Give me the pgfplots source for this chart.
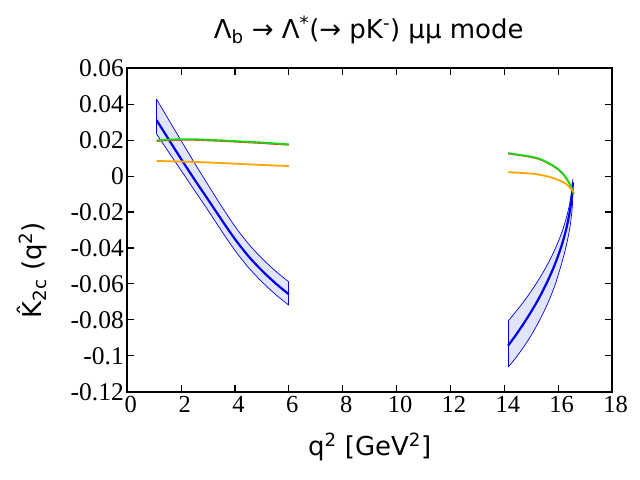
\documentclass[border=0pt]{standalone}
\usepackage{fontspec}
\setmainfont{Liberation Serif}
\newfontfamily\dejavu{DejaVu Sans}
\usepackage{pgfplots}
\usepackage{pgfplotstable}
\pgfplotsset{compat=1.18}
\definecolor{bandfill}{RGB}{226,229,250}
\definecolor{myblue}{RGB}{0,0,235}
\definecolor{mygreen}{RGB}{20,220,20}
\definecolor{myorange}{RGB}{255,165,0}
\definecolor{myred}{RGB}{240,60,40}
\pgfplotstableread{
q up ce lo
1.09 0.0427 0.0311 0.0233
1.5 0.0323 0.0213 0.0142
2.0 0.0197 0.0095 0.0031
2.5 0.0072 -0.0020 -0.0080
3.0 -0.0049 -0.0131 -0.0191
3.5 -0.0168 -0.0243 -0.0305
4.0 -0.0280 -0.0351 -0.0414
4.5 -0.0377 -0.0446 -0.0509
5.0 -0.0458 -0.0526 -0.0588
5.5 -0.0528 -0.0596 -0.0658
6.0 -0.0589 -0.0658 -0.0719
}\leftband
\pgfplotstableread{
q up ce lo
14.14 -0.0807 -0.0944 -0.1063
14.4 -0.0760 -0.0891 -0.1017
14.7 -0.0703 -0.0825 -0.0955
15.0 -0.0640 -0.0754 -0.0886
15.3 -0.0571 -0.0676 -0.0805
15.6 -0.0493 -0.0587 -0.0713
15.85 -0.0418 -0.0502 -0.0620
16.05 -0.0348 -0.0422 -0.0527
16.2 -0.0285 -0.0351 -0.0448
16.32 -0.0224 -0.0282 -0.0376
16.42 -0.0160 -0.0208 -0.0300
16.48 -0.0108 -0.0149 -0.0238
16.53 -0.0041 -0.0073 -0.0160
16.55 -0.0015 -0.0035 -0.0070
}\rightband
\begin{document}
\begin{tikzpicture}
\useasboundingbox (-127.3bp,-88.3bp) rectangle (512.7bp,391.7bp);
\begin{axis}[
  at={(0,0)}, anchor=south west,
  scale only axis, width=484.7bp, height=323.4bp,
  xmin=0, xmax=18, ymin=-0.12, ymax=0.06,
  xtick={0,2,4,6,8,10,12,14,16,18},
  ytick={-0.12,-0.1,-0.08,-0.06,-0.04,-0.02,0,0.02,0.04,0.06},
  yticklabels={-0.12,-0.1,-0.08,-0.06,-0.04,-0.02,0,0.02,0.04,0.06},
  xticklabels={0,2,4,6,8,10,12,14,16,18},
  tick align=inside, major tick length=7bp,
  tick style={line width=1.1bp, black},
  axis line style={line width=1.6bp},
  yticklabel style={font=\fontsize{25.5bp}{28bp}\selectfont},
  xticklabel style={font=\fontsize{24.5bp}{28bp}\selectfont, xshift=3.5bp, yshift=-1bp},
  scaled y ticks=false,
  title={\dejavu\fontsize{26bp}{30bp}\selectfont Λ\textsubscript{b} → Λ\textsuperscript{*}(→ pK\textsuperscript{-}) μμ mode},
  title style={at={(rel axis cs:0.498,1.100)}, anchor=center},
  xlabel={\dejavu\fontsize{26bp}{28bp}\selectfont q\textsuperscript{2} [GeV\textsuperscript{2}]},
  xlabel style={at={(rel axis cs:0.5,-0.171)}, anchor=center},
  ylabel={\dejavu\fontsize{26bp}{28bp}\selectfont \^{K}\textsubscript{2c} (q\textsuperscript{2})},
  ylabel style={at={(rel axis cs:-0.196,0.376)}, anchor=center, rotate=0},
  clip=true,
]
% left band fill
\addplot[fill=bandfill, draw=none] coordinates {
 (1.09,0.0427) (1.5,0.0323) (2.0,0.0197) (2.5,0.0072) (3.0,-0.0049) (3.5,-0.0168) (4.0,-0.0280) (4.5,-0.0377) (5.0,-0.0458) (5.5,-0.0528) (6.0,-0.0589)
 (6.0,-0.0719) (5.5,-0.0658) (5.0,-0.0588) (4.5,-0.0509) (4.0,-0.0414) (3.5,-0.0305) (3.0,-0.0191) (2.5,-0.0080) (2.0,0.0031) (1.5,0.0142) (1.09,0.0233)
} -- cycle;
\addplot[myblue, line width=0.7bp, smooth] table[x=q, y=up] {\leftband};
\addplot[myblue, line width=0.7bp, smooth] table[x=q, y=lo] {\leftband};
\addplot[myblue, line width=0.9bp] coordinates {(1.09,0.0427) (1.09,0.0233)};
\addplot[myblue, line width=0.9bp] coordinates {(6.0,-0.0589) (6.0,-0.0719)};
\addplot[myblue, line width=2.2bp, smooth] table[x=q, y=ce] {\leftband};
% right band fill
\addplot[fill=bandfill, draw=none] coordinates {
 (14.14,-0.0807) (14.4,-0.0760) (14.7,-0.0703) (15.0,-0.0640) (15.3,-0.0571) (15.6,-0.0493) (15.85,-0.0418) (16.05,-0.0348) (16.2,-0.0285) (16.32,-0.0224) (16.42,-0.0160) (16.48,-0.0108) (16.53,-0.0041) (16.55,-0.0015)
 (16.55,-0.0070) (16.53,-0.0160) (16.48,-0.0238) (16.42,-0.0300) (16.32,-0.0376) (16.2,-0.0448) (16.05,-0.0527) (15.85,-0.0620) (15.6,-0.0713) (15.3,-0.0805) (15.0,-0.0886) (14.7,-0.0955) (14.4,-0.1017) (14.14,-0.1063)
} -- cycle;
\addplot[myblue, line width=0.7bp, smooth] table[x=q, y=up] {\rightband};
\addplot[myblue, line width=0.7bp, smooth] table[x=q, y=lo] {\rightband};
\addplot[myblue, line width=0.9bp] coordinates {(14.14,-0.0807) (14.14,-0.1063)};
\addplot[myblue, line width=2.2bp, smooth] table[x=q, y=ce] {\rightband};
% red (under green)
\addplot[myred, line width=1.5bp, smooth] coordinates {
 (1.09,0.0194) (1.5,0.0199) (2.0,0.0201) (2.5,0.0201) (3.0,0.0198) (3.5,0.0195) (4.0,0.0191) (4.5,0.0187) (5.0,0.0183) (5.5,0.0178) (6.0,0.0174)
};
\addplot[myred, line width=1.5bp, smooth] coordinates {
 (14.14,0.0125) (14.6,0.0115) (15.07,0.0103) (15.4,0.0088) (15.69,0.0066) (15.95,0.0042) (16.18,0.0010) (16.33,-0.0020) (16.43,-0.0046) (16.52,-0.0075) (16.58,-0.0100)
};
% green
\addplot[mygreen, line width=1.8bp, smooth] coordinates {
 (1.09,0.0199) (1.5,0.0203) (2.0,0.0205) (2.5,0.0205) (3.0,0.0202) (3.5,0.0199) (4.0,0.0195) (4.5,0.0191) (5.0,0.0187) (5.5,0.0182) (6.0,0.0177)
};
\addplot[mygreen, line width=1.8bp, smooth] coordinates {
 (14.14,0.0128) (14.6,0.0118) (15.07,0.0106) (15.4,0.0091) (15.69,0.0069) (15.95,0.0045) (16.18,0.0013) (16.33,-0.0017) (16.43,-0.0043) (16.52,-0.0072) (16.58,-0.0099)
};
% orange
\addplot[myorange, line width=1.8bp, smooth] coordinates {
 (1.09,0.0084) (2.0,0.0081) (3.0,0.0076) (4.0,0.0069) (5.0,0.0062) (6.0,0.0056)
};
\addplot[myorange, line width=1.8bp, smooth] coordinates {
 (14.14,0.0022) (14.6,0.0018) (15.07,0.0013) (15.4,0.0005) (15.69,-0.0005) (15.95,-0.0018) (16.18,-0.0033) (16.35,-0.0050) (16.45,-0.0067) (16.58,-0.0089)
};
\end{axis}
\end{tikzpicture}
\end{document}
